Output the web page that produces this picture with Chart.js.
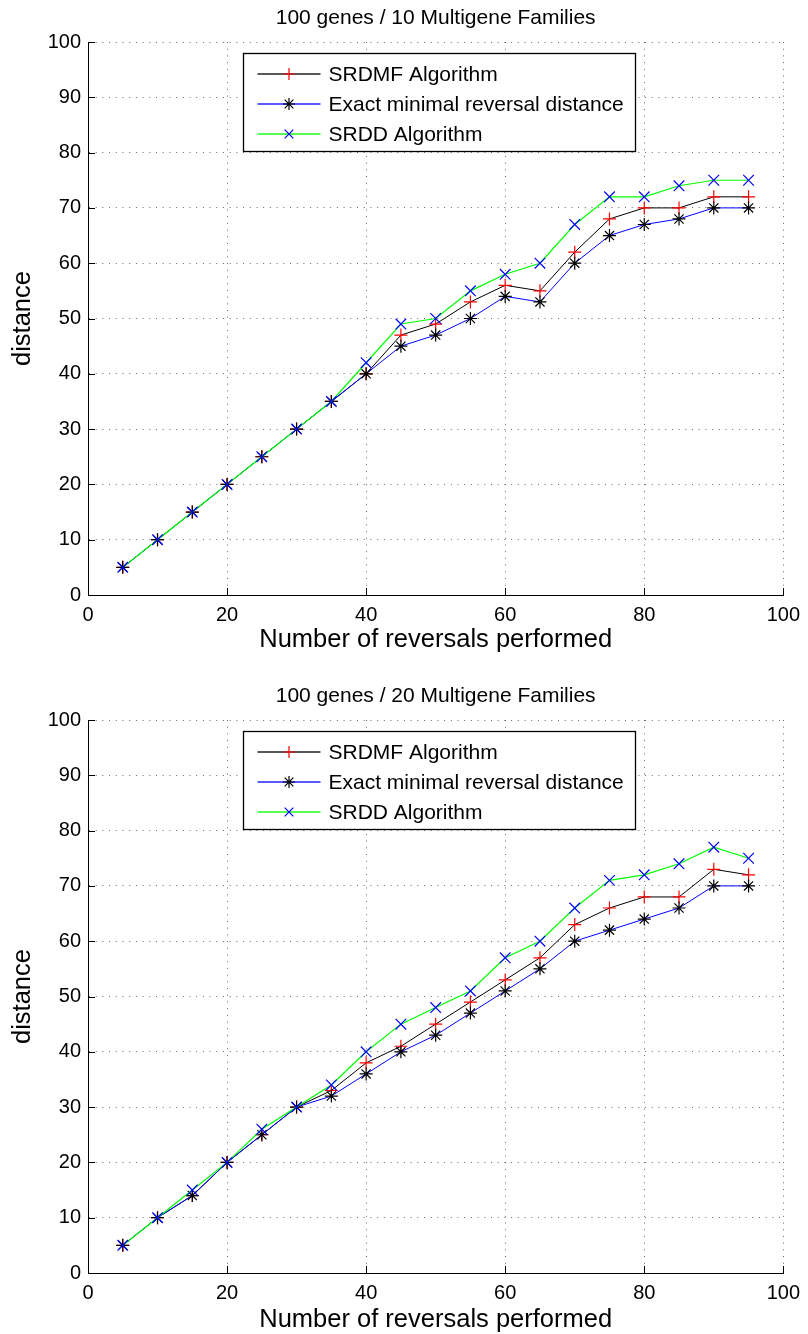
<!DOCTYPE html>
<html>
<head>
<meta charset="utf-8">
<script src="https://cdn.jsdelivr.net/npm/chart.js@4.4.1/dist/chart.umd.min.js"></script>
<style>
html,body{margin:0;padding:0;background:#fff;}
canvas{display:block;}
</style>
</head>
<body>
<canvas id="c1" width="808" height="667"></canvas>
<canvas id="c2" width="808" height="667"></canvas>
<script>
// ---------- data ----------
const reversals = [5,10,15,20,25,30,35,40,45,50,55,60,65,70,75,80,85,90,95];
const xTickValues = [0,20,40,60,80,100];
const yTickValues = [0,10,20,30,40,50,60,70,80,90,100];

const seriesNames = ['SRDMF Algorithm','Exact minimal reversal distance','SRDD Algorithm'];

const title1 = '100 genes / 10 Multigene Families';
const srdmf10 = [5,10,15,20,25,30,35,40,47,49,53,56,55,62,68,70,70,72,72];
const exact10 = [5,10,15,20,25,30,35,40,45,47,50,54,53,60,65,67,68,70,70];
const srdd10  = [5,10,15,20,25,30,35,42,49,50,55,58,60,67,72,72,74,75,75];

const title2 = '100 genes / 20 Multigene Families';
const srdmf20 = [5,10,14,20,25,30,33,38,41,45,49,53,57,63,66,68,68,73,72];
const exact20 = [5,10,14,20,25,30,32,36,40,43,47,51,55,60,62,64,66,70,70];
const srdd20  = [5,10,15,20,26,30,34,40,45,48,51,57,60,66,71,72,74,77,75];

const xTitle = 'Number of reversals performed';
const yTitle = 'distance';

// ---------- styling ----------
const FONT = "'Liberation Sans', Arial, Helvetica, sans-serif";
const GRID_COLOR = 'rgba(0,0,0,0.6)';

function makeDatasets(a, b, c) {
  const pts = arr => reversals.map((r, i) => ({x: r, y: arr[i]}));
  return [
    {label: seriesNames[0], data: pts(a), borderColor: '#000000', borderWidth: 1,
     pointStyle: 'cross', pointRadius: 6.5, pointBorderColor: '#ff0000', pointBackgroundColor: '#ff0000',
     pointBorderWidth: 1.2, order: 2, mk: 'plus'},
    {label: seriesNames[1], data: pts(b), borderColor: '#0000ff', borderWidth: 1,
     pointStyle: 'star', pointRadius: 6.5, pointBorderColor: '#000000', pointBackgroundColor: '#000000',
     pointBorderWidth: 1.2, order: 1, mk: 'star'},
    {label: seriesNames[2], data: pts(c), borderColor: '#00ff00', borderWidth: 1.2,
     pointStyle: 'crossRot', pointRadius: 7.5, pointBorderColor: '#0000ff', pointBackgroundColor: '#0000ff',
     pointBorderWidth: 1.2, order: 0, mk: 'x'}
  ];
}

function drawMarker(ctx, kind, x, y, r, color) {
  ctx.save();
  ctx.strokeStyle = color; ctx.lineWidth = 1.2;
  ctx.beginPath();
  if (kind === 'plus' || kind === 'star') {
    ctx.moveTo(x - r, y); ctx.lineTo(x + r, y);
    ctx.moveTo(x, y - r); ctx.lineTo(x, y + r);
  }
  if (kind === 'x' || kind === 'star') {
    const d = r * 0.72;
    ctx.moveTo(x - d, y - d); ctx.lineTo(x + d, y + d);
    ctx.moveTo(x - d, y + d); ctx.lineTo(x + d, y - d);
  }
  ctx.stroke();
  ctx.restore();
}

const legendPlugin = {
  id: 'mlLegend',
  afterDraw(chart) {
    const ctx = chart.ctx, ca = chart.chartArea;
    const bx = Math.round(ca.left + 155) + 0.5, by = Math.round(ca.top + 11) + 0.5, bw = 392, bh = 98;
    ctx.save();
    ctx.fillStyle = '#ffffff';
    ctx.fillRect(bx, by, bw, bh);
    ctx.strokeStyle = '#000000'; ctx.lineWidth = 1.3;
    ctx.strokeRect(bx, by, bw, bh);
    chart.data.datasets.forEach((ds, i) => {
      const cy = Math.round(by + 20 + 30 * i);
      ctx.save();
      ctx.globalAlpha = 0.65;
      ctx.strokeStyle = ds.borderColor; ctx.lineWidth = 2;
      ctx.beginPath(); ctx.moveTo(bx + 14, cy); ctx.lineTo(bx + 77, cy); ctx.stroke();
      ctx.restore();
      drawMarker(ctx, ds.mk, bx + 45.5, cy, 6, ds.pointBorderColor);
      ctx.fillStyle = '#000000';
      ctx.font = '21px ' + FONT;
      ctx.textAlign = 'left'; ctx.textBaseline = 'middle';
      ctx.fillText(ds.label, bx + 85, cy + 1);
    });
    ctx.restore();
  }
};

const inwardTicks = {
  id: 'inwardTicks',
  afterDatasetsDraw(chart) {
    const {ctx, chartArea: ca, scales: {x, y}} = chart;
    ctx.save();
    ctx.strokeStyle = '#000000'; ctx.lineWidth = 1;
    x.ticks.forEach(t => {
      const px = Math.round(x.getPixelForValue(t.value)) + 0.5;
      ctx.beginPath(); ctx.moveTo(px, ca.bottom); ctx.lineTo(px, ca.bottom - 7); ctx.stroke();
    });
    y.ticks.forEach(t => {
      const py = Math.round(y.getPixelForValue(t.value)) + 0.5;
      ctx.beginPath(); ctx.moveTo(ca.left, py); ctx.lineTo(ca.left + 7, py); ctx.stroke();
    });
    ctx.restore();
  }
};

function makeConfig(titleText, a, b, c, L) {
  const gridOpts = {color: GRID_COLOR, lineWidth: 1, drawTicks: false};
  const borderOpts = {display: true, color: '#000000', width: 1, dash: [1, 5.7]};
  return {
    type: 'line',
    data: {datasets: makeDatasets(a, b, c)},
    options: {
      responsive: false,
      animation: false,
      devicePixelRatio: 1,
      layout: {padding: {left: 0, right: 18, top: 0, bottom: 0}},
      elements: {line: {tension: 0}},
      plugins: {
        legend: {display: false},
        tooltip: {enabled: false},
        title: {display: true, text: titleText, fullSize: false, color: '#000',
                font: {family: FONT, size: 21, weight: 'normal'},
                padding: {top: L.titleTop, bottom: L.titleBottom}}
      },
      scales: {
        x: {
          type: 'linear', min: 0, max: 100,
          afterBuildTicks: s => { s.ticks = xTickValues.map(v => ({value: v})); },
          afterFit: s => { s.height = L.xHeight; },
          ticks: {color: '#000', font: {family: FONT, size: 20}, padding: 8, autoSkip: false, maxRotation: 0},
          grid: gridOpts, border: borderOpts,
          title: {display: true, text: xTitle, color: '#000', font: {family: FONT, size: 25.5},
                  padding: {top: 0, bottom: L.xTitleBottom}}
        },
        y: {
          type: 'linear', min: 0, max: 100,
          afterBuildTicks: s => { s.ticks = yTickValues.map(v => ({value: v})); },
          afterFit: s => { s.width = 88; },
          ticks: {color: '#000', font: {family: FONT, size: 20}, padding: 7, autoSkip: false},
          grid: gridOpts, border: borderOpts,
          title: {display: true, text: yTitle, color: '#000', font: {family: FONT, size: 25.5},
                  padding: {top: 7.6, bottom: 0}}
        }
      }
    },
    plugins: [inwardTicks, legendPlugin]
  };
}

new Chart(document.getElementById('c1'), makeConfig(title1, srdmf10, exact10, srdd10,
  {titleTop: 5.8, titleBottom: 11, xHeight: 72, xTitleBottom: 11.5}));
new Chart(document.getElementById('c2'), makeConfig(title2, srdmf20, exact20, srdd20,
  {titleTop: 16.4, titleBottom: 11.4, xHeight: 61, xTitleBottom: -1}));
</script>
</body>
</html>
